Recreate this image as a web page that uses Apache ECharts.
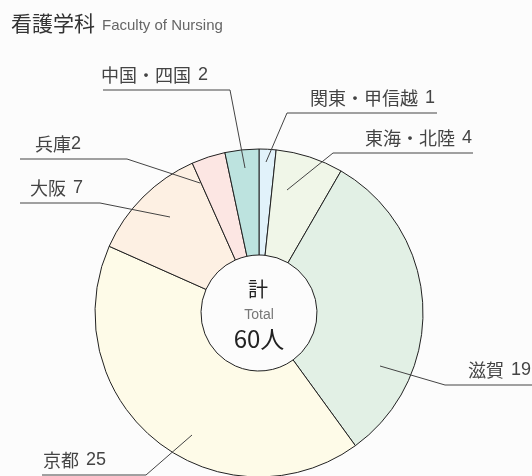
<!DOCTYPE html>
<html lang="ja">
<head>
<meta charset="UTF-8">
<title>看護学科</title>
<script src="https://cdn.jsdelivr.net/npm/echarts@6/dist/echarts.min.js"></script>
<style>
    html, body { margin: 0; padding: 0; background: #fcfcfc; }
    #main { width: 532px; height: 476px; }
</style>
</head>
<body>
<div id="main"></div>
<script>
    // 出身地別の人数（看護学科）
    var regions = ['関東・甲信越', '東海・北陸', '滋賀', '京都', '大阪', '兵庫', '中国・四国'];
    var students = [1, 4, 19, 25, 7, 2, 2];
    var labelGap = [true, true, true, true, true, false, true];
    var sliceColors = ['#e1f2fa', '#f0f6e8', '#e2f0e5', '#fefbe8', '#fdf0e3', '#fce6e3', '#bde3df'];

    // 引き出し線: [内側の点, 折れ点, 水平線の端], 文字の開始位置
    var leaderLines = [
        [[266, 162], [287, 113], [437, 113]],
        [[287, 190], [333, 153], [473, 153]],
        [[380, 366], [445, 385], [532, 385]],
        [[192, 435], [146, 475], [42, 475]],
        [[170, 217], [100, 203], [20, 203]],
        [[200, 183], [127, 159], [20, 159]],
        [[245, 168], [230, 90], [103, 90]]
    ];
    var textX = [435, 472, 531, 43, 30, 35, 101];

    var total = 0;
    var colorData = [];
    var labelData = [];
    for (var i in regions) {
        total += students[i];
        colorData.push({
            name: regions[i],
            value: students[i],
            itemStyle: {color: sliceColors[i]}
        });
        labelData.push({
            name: regions[i],
            value: students[i],
            label: {formatter: labelGap[i] ? '{t|{b}}{v|{c}}' : '{t|{b}}{c}'}
        });
    }

    var myChart = echarts.init(document.getElementById('main'));
    var option = {
        backgroundColor: '#fcfcfc',
        animation: false,
        title: {
            left: 6,
            top: 8,
            text: '{a|看護学科} {b|Faculty of Nursing}',
            textStyle: {
                rich: {
                    a: {fontFamily: 'Noto Sans CJK JP', fontSize: 21, color: '#333', fontWeight: 'normal'},
                    b: {fontFamily: 'Liberation Sans', fontSize: 15, color: '#666', fontWeight: 'normal', padding: [4, 0, 0, 2]}
                }
            }
        },
        graphic: [
            {type: 'text', x: 258, y: 289, style: {text: '計', font: '20px "Noto Sans CJK JP"', fill: '#222', align: 'center', verticalAlign: 'middle'}},
            {type: 'text', x: 259, y: 315, style: {text: 'Total', font: '14px "Liberation Sans"', fill: '#777', align: 'center', verticalAlign: 'middle'}},
            {type: 'text', x: 259, y: 339, style: {text: total + '人', font: '24px "Noto Sans CJK JP"', fill: '#222', align: 'center', verticalAlign: 'middle'}}
        ],
        series: [
            {
                // 色付きの扇形
                type: 'pie',
                center: [259, 313],
                radius: [58, 164],
                startAngle: 90,
                data: colorData,
                silent: true,
                itemStyle: {borderColor: '#222', borderWidth: 1},
                label: {show: false},
                labelLine: {show: false}
            },
            {
                // ラベルと引き出し線（扇形の上に重ねる）
                type: 'pie',
                z: 5,
                center: [259, 313],
                radius: [58, 164],
                startAngle: 90,
                data: labelData,
                silent: true,
                itemStyle: {color: 'rgba(0,0,0,0)', borderWidth: 0},
                label: {
                    show: true,
                    position: 'outside',
                    bleedMargin: -300,
                    fontFamily: 'Liberation Sans',
                    fontSize: 18,
                    color: '#444',
                    rich: {
                        t: {fontFamily: 'Noto Sans CJK JP', fontSize: 18, color: '#444'},
                        v: {fontFamily: 'Liberation Sans', fontSize: 18, color: '#444', padding: [0, 0, 0, 7]}
                    }
                },
                labelLine: {
                    show: true,
                    smooth: false,
                    lineStyle: {color: '#444', width: 1}
                },
                labelLayout: function (p) {
                    var i = p.dataIndex;
                    var pts = leaderLines[i];
                    var toRight = pts[2][0] > pts[1][0];
                    return {
                        x: textX[i],
                        y: pts[2][1] - 15,
                        align: toRight ? 'right' : 'left',
                        verticalAlign: 'middle',
                        labelLinePoints: pts
                    };
                }
            }
        ]
    };
    myChart.setOption(option);
</script>
</body>
</html>
